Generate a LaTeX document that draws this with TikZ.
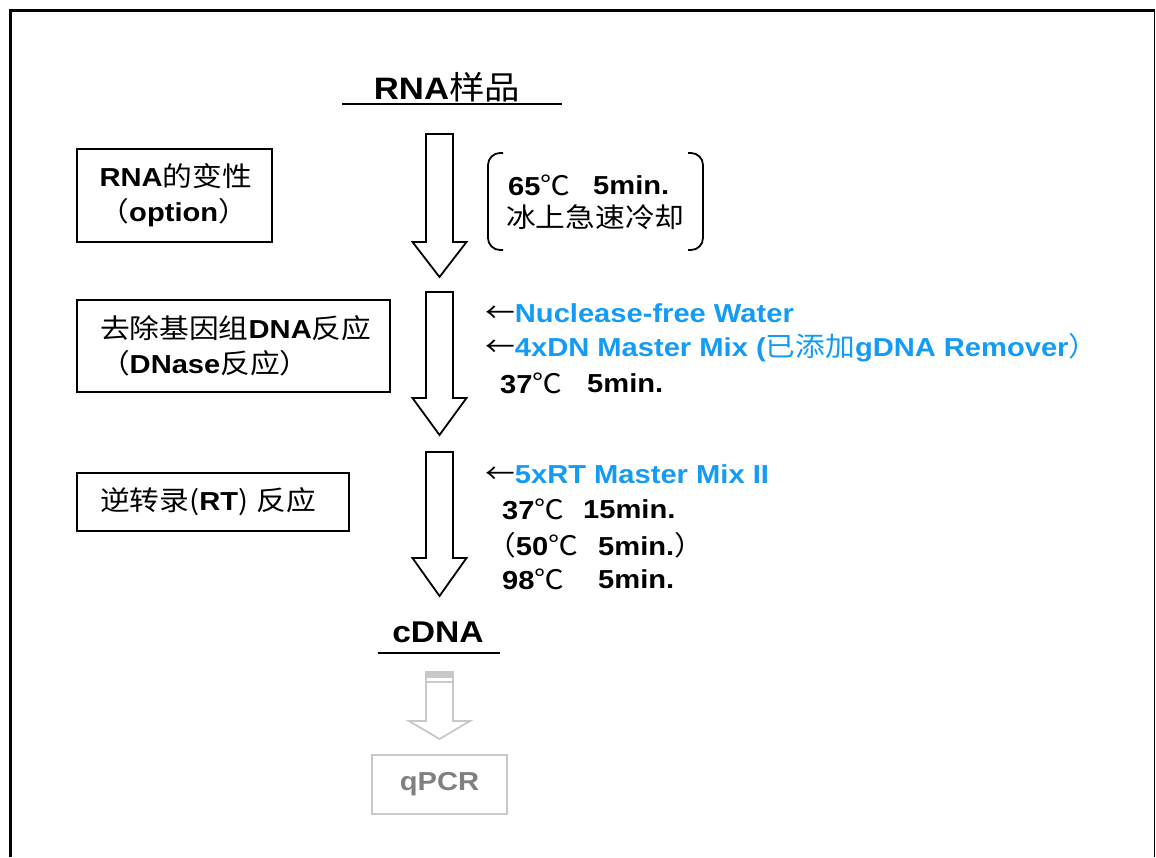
\documentclass[tikz,border=0pt]{standalone}
\usepackage{fontspec}
\setmainfont{Liberation Sans}[FakeStretch=1.12]
\newfontfamily\cjk{Noto Sans CJK SC}[FakeStretch=1.1, Scale=1.04]
\newcommand\zh[1]{{\cjk\mdseries #1}}
\definecolor{mblue}{RGB}{20,155,245}
\definecolor{lgray}{RGB}{200,200,200}
\definecolor{tgray}{RGB}{128,128,128}
\tikzset{
  body/.style={font=\fontsize{26}{35}\selectfont\bfseries, inner sep=0pt, anchor=west},
  bluet/.style={body, text=mblue},
  stepbox/.style={draw=black, line width=1.8pt, font=\fontsize{26}{35}\selectfont\bfseries, align=left, inner sep=0pt},
  barrow/.style={draw=black, line width=1.8pt, fill=white, line join=miter},
}
\newcommand\blockarrow[4]{% top, head, tip, style
  \draw[#4] (426,#1) -- (453,#1) -- (453,#2) -- (466.5,#2) -- (439.5,#3) -- (412.5,#2) -- (426,#2) -- cycle;}
\begin{document}
\begin{tikzpicture}[x=1pt,y=-1pt]
\useasboundingbox (0,0) rectangle (1156,857);
\fill[white] (0,0) rectangle (1156,857);
% frame
\draw[line width=3pt] (10.5,857) -- (10.5,10.5) -- (1155,10.5);
\draw[line width=1.5pt] (1154.5,10.5) -- (1154.5,857);

% title
\node[font=\fontsize{31}{31}\selectfont\bfseries, inner sep=0pt] (rna) at (447,87) {RNA\zh{样品}};
\draw[line width=2pt] (342,103.5) -- (562,103.5);

% block arrows
\blockarrow{134}{242}{277}{barrow}
\blockarrow{292}{398}{435}{barrow}
\blockarrow{452}{558}{596}{barrow}

% left boxes
\node[stepbox, minimum width=195pt, minimum height=93pt, text width=150pt] (b1) at (174.5,195.5) {RNA\zh{的变性}\\\zh{（}option\zh{）}};
\node[stepbox, minimum width=313pt, minimum height=92pt, text width=267pt] (b2) at (233.5,346) {\zh{去除基因组}DNA\zh{反应}\\\zh{（}DNase\zh{反应）}};
\node[stepbox, minimum width=272pt, minimum height=58pt, text width=226pt] (b3) at (213,502) {\zh{逆转录(}RT\zh{) 反应}};

% bracket block
\draw[line width=1.8pt, rounded corners=12pt] (503,153) -- (488,153) -- (488,250) -- (503,250);
\draw[line width=1.8pt, rounded corners=12pt] (688,153) -- (703,153) -- (703,250) -- (688,250);
\node[body] (t1a) at (508,185) {65\zh{℃}};
\node[body] (t1b) at (593,185) {5min.};
\node[body] (t1c) at (506,217) {\zh{冰上急速冷却}};

% DNase block
\node[body] (w) at (485,313) {\zh{←}\textcolor{mblue}{Nuclease-free Water}};
\node[body] (dn) at (485,348) {\zh{←}\textcolor{mblue}{4xDN Master Mix (\zh{已添加}gDNA Remover\zh{）}}};
\node[body] (t2a) at (500,383) {37\zh{℃}};
\node[body] (t2b) at (587,383) {5min.};

% RT block
\node[body] (rt) at (485,474) {\zh{←}\textcolor{mblue}{5xRT Master Mix II}};
\node[body] (t3a) at (502,509) {37\zh{℃}};
\node[body] (t3b) at (583,509) {15min.};
\node[body] (t4a) at (486,545) {\zh{（}50\zh{℃}};
\node[body] (t4b) at (598,545) {5min.\zh{）}};
\node[body] (t5a) at (502,579) {98\zh{℃}};
\node[body] (t5b) at (598,579) {5min.};

% cDNA
\node[font=\fontsize{30}{30}\selectfont\bfseries, inner sep=0pt] (cdna) at (438,632) {cDNA};
\draw[line width=2pt] (378,652.5) -- (500,652.5);

% gray arrow and qPCR
\draw[draw=lgray, line width=1.8pt, fill=white] (426,672) -- (453,672) -- (453,721) -- (470,721) -- (439.5,739) -- (409,721) -- (426,721) -- cycle;
\fill[lgray] (426,672) rectangle (453,677.5);
\draw[lgray, line width=1.5pt] (426,682) -- (453,682);
\node[draw=lgray, line width=2pt, minimum width=135pt, minimum height=59pt, text=tgray, font=\fontsize{26}{26}\selectfont\bfseries] (qpcr) at (439.5,784.5) {qPCR};
\end{tikzpicture}
\end{document}
